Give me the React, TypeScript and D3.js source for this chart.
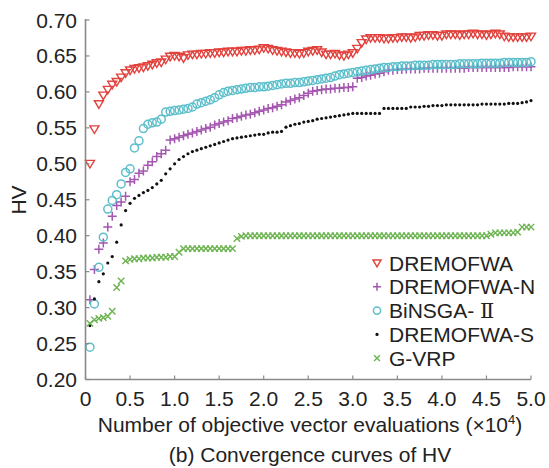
import React from 'react';
import * as d3 from 'd3';

// evaluations (x10^4), one sample every 0.05
const evals = d3.range(1, 101).map(k => +(k * 0.05).toFixed(2));

const dremofwa = [
  0.500, 0.548, 0.583, 0.595, 0.603, 0.610, 0.614, 0.620, 0.626, 0.630,
  0.632, 0.633, 0.634, 0.636, 0.638, 0.640, 0.641, 0.645, 0.649, 0.650,
  0.649, 0.647, 0.651, 0.652, 0.652, 0.653, 0.653, 0.654, 0.654, 0.655,
  0.655, 0.656, 0.656, 0.656, 0.657, 0.657, 0.658, 0.658, 0.659, 0.661,
  0.660, 0.658, 0.657, 0.656, 0.655, 0.654, 0.654, 0.653, 0.654, 0.656,
  0.657, 0.658, 0.655, 0.652, 0.652, 0.653, 0.651, 0.650, 0.652, 0.654,
  0.660, 0.668, 0.673, 0.675, 0.675, 0.675, 0.674, 0.674, 0.675, 0.675,
  0.676, 0.676, 0.675, 0.676, 0.678, 0.678, 0.679, 0.679, 0.678, 0.678,
  0.680, 0.680, 0.680, 0.679, 0.680, 0.680, 0.681, 0.680, 0.680, 0.679,
  0.680, 0.681, 0.680, 0.677, 0.676, 0.676, 0.676, 0.676, 0.676, 0.677,
];

const dremofwaN = [
  0.311, 0.353, 0.381, 0.390, 0.412, 0.427, 0.442, 0.447, 0.455, 0.475,
  0.478, 0.487, 0.490, 0.498, 0.503, 0.510, 0.514, 0.519, 0.533, 0.535,
  0.537, 0.539, 0.541, 0.543, 0.545, 0.547, 0.549, 0.551, 0.554, 0.556,
  0.558, 0.560, 0.563, 0.564, 0.566, 0.568, 0.569, 0.571, 0.573, 0.575,
  0.577, 0.578, 0.580, 0.582, 0.586, 0.588, 0.590, 0.592, 0.595, 0.598,
  0.601, 0.602, 0.603, 0.604, 0.604, 0.605, 0.605, 0.606, 0.606, 0.607,
  0.619, 0.620, 0.622, 0.623, 0.625, 0.626, 0.628, 0.630, 0.630, 0.631,
  0.631, 0.632, 0.632, 0.632, 0.632, 0.633, 0.633, 0.633, 0.633, 0.633,
  0.633, 0.633, 0.633, 0.633, 0.633, 0.634, 0.634, 0.634, 0.634, 0.634,
  0.634, 0.634, 0.634, 0.634, 0.634, 0.635, 0.635, 0.635, 0.635, 0.635,
];

const binsga = [
  0.245, 0.305, 0.356, 0.398, 0.437, 0.449, 0.457, 0.472, 0.488, 0.493,
  0.522, 0.532, 0.549, 0.555, 0.557, 0.558, 0.562, 0.572, 0.573, 0.574,
  0.575, 0.576, 0.577, 0.579, 0.583, 0.585, 0.587, 0.589, 0.592, 0.596,
  0.599, 0.601, 0.602, 0.603, 0.604, 0.605, 0.606, 0.606, 0.607, 0.607,
  0.608, 0.609, 0.610, 0.611, 0.612, 0.612, 0.613, 0.613, 0.614, 0.615,
  0.616, 0.617, 0.618, 0.619, 0.620, 0.622, 0.624, 0.625, 0.626, 0.627,
  0.628, 0.629, 0.630, 0.631, 0.632, 0.633, 0.634, 0.634, 0.635, 0.635,
  0.636, 0.636, 0.636, 0.637, 0.637, 0.637, 0.637, 0.638, 0.638, 0.638,
  0.638, 0.638, 0.638, 0.639, 0.639, 0.639, 0.639, 0.639, 0.640, 0.640,
  0.640, 0.640, 0.640, 0.641, 0.641, 0.641, 0.641, 0.641, 0.641, 0.642,
];

const dremofwaS = [
  0.275, 0.312, 0.336, 0.347, 0.362, 0.371, 0.391, 0.415, 0.435, 0.445,
  0.452, 0.456, 0.460, 0.463, 0.467, 0.472, 0.477, 0.486, 0.493, 0.500,
  0.506, 0.510, 0.514, 0.517, 0.519, 0.521, 0.523, 0.525, 0.527, 0.529,
  0.531, 0.533, 0.535, 0.536, 0.537, 0.538, 0.539, 0.540, 0.541, 0.541,
  0.543, 0.544, 0.544, 0.545, 0.551, 0.553, 0.555, 0.556, 0.558, 0.559,
  0.560, 0.562, 0.563, 0.564, 0.565, 0.566, 0.567, 0.568, 0.569, 0.570,
  0.570, 0.570, 0.570, 0.570, 0.570, 0.570, 0.577, 0.577, 0.577, 0.577,
  0.577, 0.577, 0.579, 0.579, 0.579, 0.580, 0.580, 0.581, 0.581, 0.581,
  0.582, 0.582, 0.582, 0.582, 0.582, 0.582, 0.582, 0.582, 0.583, 0.583,
  0.583, 0.583, 0.583, 0.583, 0.584, 0.584, 0.584, 0.585, 0.586, 0.588,
];

const gvrp = [
  0.278, 0.283, 0.285, 0.286, 0.288, 0.295, 0.328, 0.337, 0.365, 0.367,
  0.368, 0.368, 0.369, 0.369, 0.369, 0.370, 0.370, 0.370, 0.371, 0.371,
  0.377, 0.382, 0.382, 0.382, 0.382, 0.382, 0.382, 0.382, 0.382, 0.382,
  0.382, 0.382, 0.382, 0.396, 0.399, 0.400, 0.400, 0.400, 0.400, 0.400,
  0.400, 0.400, 0.400, 0.400, 0.400, 0.400, 0.400, 0.400, 0.400, 0.400,
  0.400, 0.400, 0.400, 0.400, 0.400, 0.400, 0.400, 0.400, 0.400, 0.400,
  0.400, 0.400, 0.400, 0.400, 0.400, 0.400, 0.400, 0.400, 0.400, 0.400,
  0.400, 0.400, 0.400, 0.400, 0.400, 0.400, 0.400, 0.400, 0.400, 0.400,
  0.400, 0.400, 0.400, 0.400, 0.400, 0.400, 0.400, 0.400, 0.400, 0.400,
  0.402, 0.404, 0.404, 0.404, 0.404, 0.404, 0.405, 0.412, 0.412, 0.412,
];

const xTicks = [0, 0.5, 1.0, 1.5, 2.0, 2.5, 3.0, 3.5, 4.0, 4.5, 5.0];
const yTicks = [0.2, 0.25, 0.3, 0.35, 0.4, 0.45, 0.5, 0.55, 0.6, 0.65, 0.7];

const seriesNames = ['DREMOFWA', 'DREMOFWA-N', 'BiNSGA- ', 'DREMOFWA-S', 'G-VRP'];
const seriesValues = [dremofwa, dremofwaN, binsga, dremofwaS, gvrp];
const seriesColors = ['#e2413c', '#a456b0', '#5cbfcb', '#111111', '#6cb350'];
const seriesMarkers = ['tri', 'plus', 'circle', 'dot', 'cross'];

const W = 549, H = 468;
const FONT = '"Liberation Sans", Arial, sans-serif';

function Marker({ kind, x, y, color, s = 1 }: any) {
  const t = `translate(${x},${y})`;
  if (kind === 'tri') {
    return <path transform={t} d={`M${-4.5 * s},${-3.4 * s}L${4.5 * s},${-3.4 * s}L0,${4.2 * s}Z`}
      fill="none" stroke={color} strokeWidth={1.4} />;
  }
  if (kind === 'plus') {
    return <path transform={t} d={`M${-4.5 * s},0H${4.5 * s}M0,${-4.5 * s}V${4.5 * s}`}
      fill="none" stroke={color} strokeWidth={1.5} />;
  }
  if (kind === 'circle') {
    return <circle transform={t} r={4 * s} fill="none" stroke={color} strokeWidth={1.5} />;
  }
  if (kind === 'dot') {
    return <circle transform={t} r={1.6} fill={color} />;
  }
  return <path transform={t} d={`M${-3.2 * s},${-3.2 * s}L${3.2 * s},${3.2 * s}M${-3.2 * s},${3.2 * s}L${3.2 * s},${-3.2 * s}`}
    fill="none" stroke={color} strokeWidth={1.4} />;
}

export default function App() {
  const x = d3.scaleLinear().domain([0, 5]).range([85.5, 531]);
  const y = d3.scaleLinear().domain([0.2, 0.7]).range([379.5, 20]);
  const axisColor = '#8a8a8a';

  return (
    <svg width={W} height={H} style={{ position: 'absolute', left: 0, top: 0, background: '#fff' }}
      fontFamily={FONT}>
      {/* data */}
      {seriesValues.map((vals, si) => (
        <g key={si}>
          {vals.map((v, i) => (
            <Marker key={i} kind={seriesMarkers[si]} x={x(evals[i])} y={y(v)} color={seriesColors[si]} />
          ))}
        </g>
      ))}

      {/* axes */}
      <line x1={x(0)} x2={x(0)} y1={y(0.7) - 1} y2={y(0.2)} stroke={axisColor} strokeWidth={1.6} />
      <line x1={x(0)} x2={x(5)} y1={y(0.2)} y2={y(0.2)} stroke={axisColor} strokeWidth={1.6} />
      {yTicks.map(t => (
        <g key={t}>
          <line x1={x(0)} x2={x(0) + 4} y1={y(t)} y2={y(t)} stroke={axisColor} strokeWidth={1.2} />
          <text x={77} y={y(t) + 7.5} textAnchor="end" fontSize={21} fill="#222">{t.toFixed(2)}</text>
        </g>
      ))}
      {xTicks.map(t => (
        <g key={t}>
          <line x1={x(t)} x2={x(t)} y1={y(0.2)} y2={y(0.2) - 4} stroke={axisColor} strokeWidth={1.2} />
          <text x={x(t)} y={406} textAnchor="middle" fontSize={21} fill="#222">{t === 0 ? '0' : t.toFixed(1)}</text>
        </g>
      ))}

      <text transform="translate(26,200) rotate(-90)" textAnchor="middle" fontSize={21} fill="#222">HV</text>
      <text x={310} y={432} textAnchor="middle" fontSize={21} fill="#222">
        Number of objective vector evaluations (×10<tspan dy={-8} fontSize={13}>4</tspan><tspan dy={8}>)</tspan>
      </text>
      <text x={310} y={462} textAnchor="middle" fontSize={21} fill="#222">(b) Convergence curves of HV</text>

      {/* legend */}
      {seriesNames.map((n, i) => (
        <g key={i} transform={`translate(0,${263 + i * 23.8})`}>
          <Marker kind={seriesMarkers[i]} x={377} y={0} color={seriesColors[i]} s={0.9} />
          <text x={389} y={7.5} fontSize={21} fill="#222">
            {n}
            {i === 2 && <tspan fontFamily='"Liberation Serif", "DejaVu Serif", serif'>Ⅱ</tspan>}
          </text>
        </g>
      ))}
    </svg>
  );
}
